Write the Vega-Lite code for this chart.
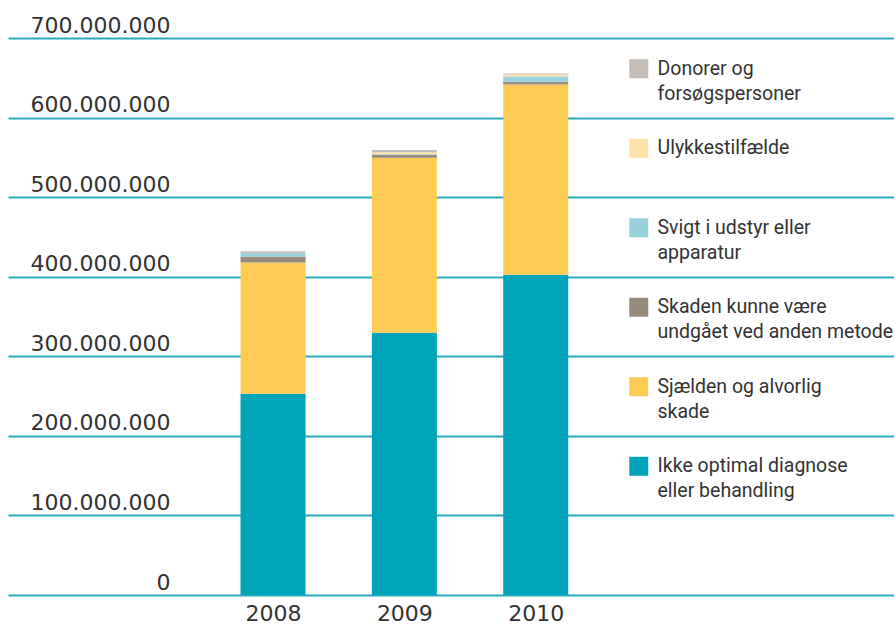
{
  "$schema": "https://vega.github.io/schema/vega-lite/v6.json",
  "width": 886,
  "height": 557,
  "autosize": "none",
  "padding": {"left": 8, "top": 38, "right": 0, "bottom": 37},
  "background": "white",
  "config": {
    "view": {"stroke": null}
  },
  "data": {
    "values": [
      {"year": 2008, "type": "Ikke optimal diagnose|eller behandling", "rank": 1, "value": 253000000},
      {"year": 2008, "type": "Sjælden og alvorlig|skade", "rank": 2, "value": 165000000},
      {"year": 2008, "type": "Skaden kunne være|undgået ved anden metode", "rank": 3, "value": 7500000},
      {"year": 2008, "type": "Svigt i udstyr eller|apparatur", "rank": 4, "value": 4200000},
      {"year": 2008, "type": "Ulykkestilfælde|", "rank": 5, "value": 300000},
      {"year": 2008, "type": "Donorer og|forsøgspersoner", "rank": 6, "value": 2100000},
      {"year": 2009, "type": "Ikke optimal diagnose|eller behandling", "rank": 1, "value": 329600000},
      {"year": 2009, "type": "Sjælden og alvorlig|skade", "rank": 2, "value": 220000000},
      {"year": 2009, "type": "Skaden kunne være|undgået ved anden metode", "rank": 3, "value": 3400000},
      {"year": 2009, "type": "Svigt i udstyr eller|apparatur", "rank": 4, "value": 900000},
      {"year": 2009, "type": "Ulykkestilfælde|", "rank": 5, "value": 2500000},
      {"year": 2009, "type": "Donorer og|forsøgspersoner", "rank": 6, "value": 2900000},
      {"year": 2010, "type": "Ikke optimal diagnose|eller behandling", "rank": 1, "value": 402500000},
      {"year": 2010, "type": "Sjælden og alvorlig|skade", "rank": 2, "value": 239000000},
      {"year": 2010, "type": "Skaden kunne være|undgået ved anden metode", "rank": 3, "value": 3400000},
      {"year": 2010, "type": "Svigt i udstyr eller|apparatur", "rank": 4, "value": 6700000},
      {"year": 2010, "type": "Ulykkestilfælde|", "rank": 5, "value": 2500000},
      {"year": 2010, "type": "Donorer og|forsøgspersoner", "rank": 6, "value": 1300000}
    ]
  },
  "mark": {"type": "bar", "size": 65},
  "encoding": {
    "x": {
      "field": "year",
      "type": "quantitative",
      "scale": {"domain": [2006.02, 2012.69], "nice": false, "zero": false},
      "axis": {
        "values": [2008, 2009, 2010],
        "format": "d",
        "grid": false,
        "domain": false,
        "ticks": false,
        "title": null,
        "labelFont": "DejaVu Sans",
        "labelFontSize": 22,
        "labelColor": "#333333",
        "labelPadding": 8
      }
    },
    "y": {
      "field": "value",
      "type": "quantitative",
      "stack": "zero",
      "scale": {"domain": [0, 700000000], "nice": false},
      "axis": {
        "values": [0, 100000000, 200000000, 300000000, 400000000, 500000000, 600000000, 700000000],
        "labelExpr": "replace(format(datum.value, ',d'), /,/g, '.')",
        "grid": true,
        "gridColor": "#2aaabf",
        "gridWidth": 2,
        "domain": false,
        "ticks": false,
        "title": null,
        "labelAlign": "right",
        "labelBaseline": "alphabetic",
        "labelPadding": -162,
        "labelOffset": -6,
        "labelFont": "DejaVu Sans",
        "labelFontSize": 22,
        "labelColor": "#333333"
      }
    },
    "color": {
      "field": "type",
      "type": "nominal",
      "scale": {
        "domain": [
          "Donorer og|forsøgspersoner",
          "Ulykkestilfælde|",
          "Svigt i udstyr eller|apparatur",
          "Skaden kunne være|undgået ved anden metode",
          "Sjælden og alvorlig|skade",
          "Ikke optimal diagnose|eller behandling"
        ],
        "range": ["#c4bcb6", "#fde3aa", "#97d2dd", "#978c7c", "#fecb55", "#00a4b9"]
      },
      "legend": {
        "orient": "none",
        "legendX": 621,
        "legendY": 21,
        "title": null,
        "padding": 0,
        "symbolType": "square",
        "symbolSize": 361,
        "symbolStrokeWidth": 0,
        "symbolOpacity": 1,
        "labelOffset": 9,
        "labelFont": "Roboto",
        "labelFontSize": 19.5,
        "labelColor": "#333333",
        "labelLimit": 400,
        "labelBaseline": "middle",
        "rowPadding": 33.5,
        "labelExpr": "split(datum.label, '|')",
        "encode": {"labels": {"update": {"lineHeight": {"value": 25}}}}
      }
    },
    "order": {"field": "rank", "type": "quantitative"}
  }
}
